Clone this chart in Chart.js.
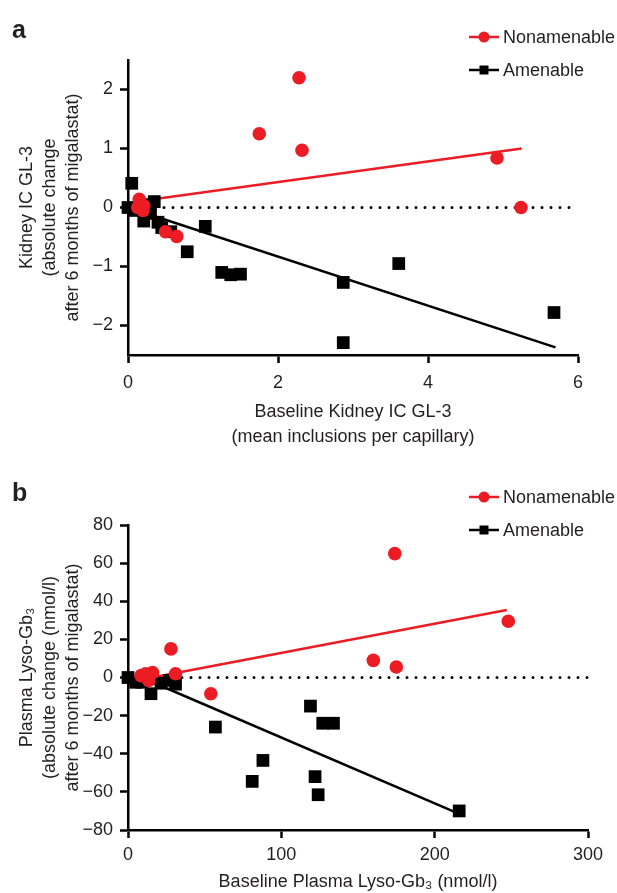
<!DOCTYPE html>
<html><head><meta charset="utf-8">
<script src="https://cdn.jsdelivr.net/npm/chart.js@4.4.1/dist/chart.umd.min.js"></script>
<style>
html,body{margin:0;padding:0;background:#fff;width:617px;height:893px;overflow:hidden}
canvas{position:absolute;left:0;display:block}
#ca{top:0}
#cb{top:460px}
</style></head><body>
<canvas id="ca" width="617" height="460"></canvas>
<canvas id="cb" width="617" height="433"></canvas>
<script>
// ---------- Panel a: Kidney IC GL-3 ----------
const nonamenableA_x = [2.28, 1.75, 2.32, 4.92, 5.24, 0.65, 0.50, 0.15, 0.13, 0.20, 0.21];
const nonamenableA_y = [2.20, 1.25, 0.97, 0.84, 0.00, -0.49, -0.41, 0.14, 0.00, -0.05, 0.03];
const amenableA_x = [0.05, 0.00, 0.35, 0.10, 0.21, 0.30, 0.45, 0.57, 1.03, 0.79, 1.25, 1.37, 1.50, 2.87, 2.87, 3.61, 5.68, 0.18, 0.40];
const amenableA_y = [0.41, 0.00, 0.10, -0.05, -0.23, -0.10, -0.34, -0.41, -0.32, -0.75, -1.10, -1.14, -1.13, -1.27, -2.29, -0.95, -1.78, 0.05, -0.25];
const fitNonamenableA = [[0.12, 0.10], [5.25, 1.00]];
const fitAmenableA = [[0.00, 0.00], [5.70, -2.37]];
const xTicksA = [0, 2, 4, 6];
const yTicksA = [-2, -1, 0, 1, 2];

// ---------- Panel b: Plasma Lyso-Gb3 ----------
const nonamenableB_x = [174, 248, 160, 175, 54, 28, 8.5, 16, 13.5, 31, 11.5];
const nonamenableB_y = [65, 29.5, 9, 5.5, -8.5, 15, 1, 2.6, -1.6, 2, 2];
const amenableB_x = [216, 57, 88, 81, 119, 127, 134, 122, 124, 0, 5, 15, 21.5, 31, 27, 9];
const amenableB_y = [-70, -26, -43.5, -54.5, -15, -24, -24, -52, -61.5, 0, -2.5, -8.5, -3, -3.5, -1.5, -2.5];
const fitNonamenableB = [[8, -1.2], [247, 35.4]];
const fitAmenableB = [[5, 1.3], [216, -71.5]];
const xTicksB = [0, 100, 200, 300];
const yTicksB = [-80, -60, -40, -20, 0, 20, 40, 60, 80];

const RED = '#ec1c24';
const BLACK = '#000000';
const TXT = '#231f20';
const FONT = '"Liberation Sans", Arial, Helvetica, sans-serif';

const pts = (xs, ys) => xs.map((x, i) => ({x: x, y: ys[i]}));
const seg = (arr) => arr.map(p => ({x: p[0], y: p[1]}));
const fmt = v => (v < 0 ? '\u2212' + Math.abs(v) : String(v));

const decor = {
  id: 'decor',
  afterDraw(chart, args, o) {
    const ctx = chart.ctx;
    ctx.save();
    ctx.fillStyle = TXT;
    ctx.font = 'bold 25px ' + FONT;
    ctx.textAlign = 'left';
    ctx.textBaseline = 'alphabetic';
    ctx.fillText(o.letter, 12, o.letterY);
    const items = chart.data.datasets.filter(d => d.inLegend);
    items.forEach((d, i) => {
      const y = 37 + i * 33;
      ctx.strokeStyle = d.backgroundColor;
      ctx.lineWidth = 2.5;
      ctx.beginPath(); ctx.moveTo(469, y); ctx.lineTo(499, y); ctx.stroke();
      ctx.fillStyle = d.backgroundColor;
      if (d.pointStyle === 'circle') {
        ctx.beginPath(); ctx.arc(484, y, 5.5, 0, Math.PI * 2); ctx.fill();
      } else {
        ctx.fillRect(479.5, y - 4.5, 9, 9);
      }
      ctx.fillStyle = TXT;
      ctx.font = '18px ' + FONT;
      ctx.textBaseline = 'middle';
      ctx.fillText(d.label, 503, y + 1);
    });
    ctx.restore();
  }
};

function makeChart(id, cfg) {
  const datasets = [
    {label: 'Nonamenable', inLegend: true, data: pts(cfg.nx, cfg.ny), pointStyle: 'circle', pointRadius: 6.8,
     backgroundColor: RED, borderColor: RED, borderWidth: 0, showLine: false, clip: false},
    {label: 'Amenable', inLegend: true, data: pts(cfg.ax, cfg.ay), pointStyle: 'rect', pointRadius: 9,
     backgroundColor: BLACK, borderColor: BLACK, borderWidth: 0, showLine: false, clip: false},
    {label: 'fitN', data: seg(cfg.fitN), showLine: true, pointRadius: 0, borderColor: RED, backgroundColor: RED, borderWidth: 2.5, clip: false},
    {label: 'fitA', data: seg(cfg.fitA), showLine: true, pointRadius: 0, borderColor: BLACK, backgroundColor: BLACK, borderWidth: 2.5, clip: false},
    {label: 'zero', data: [{x: cfg.xTicks[0], y: 0}, {x: cfg.xTicks[cfg.xTicks.length - 1], y: 0}], showLine: true, pointRadius: 0,
     borderColor: BLACK, borderWidth: 3, borderDash: [0, 9], borderCapStyle: 'round', clip: false}
  ];
  return new Chart(document.getElementById(id), {
    type: 'scatter',
    data: {datasets},
    options: {
      responsive: false, animation: false, devicePixelRatio: 1,
      layout: {padding: {left: 0, top: cfg.padTop, right: cfg.padRight, bottom: 0}},
      plugins: {legend: {display: false}, tooltip: {enabled: false}, decor: {letter: cfg.letter, letterY: cfg.letterY}},
      scales: {
        x: {
          type: 'linear', min: cfg.xTicks[0], max: cfg.xTicks[cfg.xTicks.length - 1],
          afterBuildTicks: s => { s.ticks = cfg.xTicks.map(v => ({value: v})); },
          afterFit: s => { s.height = cfg.xHeight; },
          grid: {drawOnChartArea: false, drawTicks: true, tickLength: 8, tickWidth: 2.5, tickColor: BLACK},
          border: {display: true, width: 2.5, color: BLACK},
          ticks: {font: {size: 18, family: FONT}, color: TXT, padding: cfg.xTickPad, maxRotation: 0, callback: fmt},
          title: {display: true, text: cfg.xTitle, color: TXT, font: {size: 18, family: FONT, lineHeight: cfg.xTitleLH},
                  padding: {top: 0, bottom: cfg.xTitlePadB}}
        },
        y: {
          type: 'linear', min: cfg.yMin, max: cfg.yMax,
          afterBuildTicks: s => { s.ticks = cfg.yTicks.map(v => ({value: v})); },
          afterFit: s => { s.width = 128; },
          grid: {drawOnChartArea: false, drawTicks: true, tickLength: 8, tickWidth: 2.5, tickColor: BLACK},
          border: {display: true, width: 2.5, color: BLACK},
          ticks: {font: {size: 18, family: FONT}, color: TXT, padding: 7, callback: fmt},
          title: {display: true, text: cfg.yTitle, color: TXT, font: {size: 18, family: FONT, lineHeight: 1.28},
                  padding: {top: 15.5, bottom: 0}}
        }
      }
    },
    plugins: [decor]
  });
}

makeChart('ca', {
  nx: nonamenableA_x, ny: nonamenableA_y, ax: amenableA_x, ay: amenableA_y,
  fitN: fitNonamenableA, fitA: fitAmenableA, xTicks: xTicksA, yTicks: yTicksA,
  yMin: -2.5, yMax: 2.5, padTop: 60, padRight: 39, xHeight: 105, xTickPad: 9,
  xTitle: ['Baseline Kidney IC GL-3', '(mean inclusions per capillary)'], xTitleLH: 1.39, xTitlePadB: 10.5,
  yTitle: ['Kidney IC GL-3', '(absolute change', 'after 6 months of migalastat)'],
  letter: 'a', letterY: 38
});

makeChart('cb', {
  nx: nonamenableB_x, ny: nonamenableB_y, ax: amenableB_x, ay: amenableB_y,
  fitN: fitNonamenableB, fitA: fitAmenableB, xTicks: xTicksB, yTicks: yTicksB,
  yMin: -80, yMax: 80, padTop: 65, padRight: 29, xHeight: 63, xTickPad: 6,
  xTitle: ['Baseline Plasma Lyso-Gb\u2083 (nmol/l)'], xTitleLH: 1.2, xTitlePadB: 0,
  yTitle: ['Plasma Lyso-Gb\u2083', '(absolute change (nmol/l)', 'after 6 months of migalastat)'],
  letter: 'b', letterY: 41
});
</script>
</body></html>
